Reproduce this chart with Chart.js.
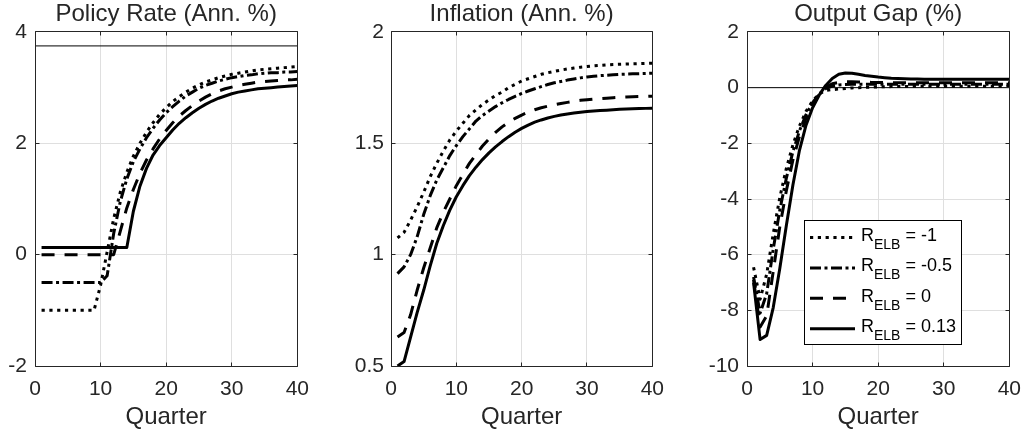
<!DOCTYPE html>
<html>
<head>
<meta charset="utf-8">
<script src="https://cdn.jsdelivr.net/npm/chart.js@4.4.1/dist/chart.umd.min.js"></script>
<style>
body { margin: 0; background: #fff; width: 1032px; height: 435px; position: relative; overflow: hidden; }
canvas { position: absolute; top: 0; }
</style>
</head>
<body>
<canvas id="rateChart" width="320" height="435" style="left:0px"></canvas>
<canvas id="inflChart" width="331" height="435" style="left:344px"></canvas>
<canvas id="gapChart" width="332" height="435" style="left:700px"></canvas>
<script>
// impulse responses under four effective lower bounds (R_ELB)
const quarters = [1,2,3,4,5,6,7,8,9,10,11,12,13,14,15,16,17,18,19,20,
                  21,22,23,24,25,26,27,28,29,30,31,32,33,34,35,36,37,38,39,40];
const elbLevels = [-1, -0.5, 0, 0.13];

// policy rate, annualised %
const rateElbM1 = [-1,-1,-1,-1,-1,-1,-1,-1,-1,-0.55, 0.05,0.65,1.12,1.48,1.77,2.0,2.2,2.37,2.52,2.64,
                   2.75,2.84,2.92,2.99,3.05,3.1,3.14,3.18,3.21,3.24, 3.26,3.28,3.3,3.32,3.33,3.34,3.35,3.36,3.37,3.38];
const rateElbM05 = [-0.5,-0.5,-0.5,-0.5,-0.5,-0.5,-0.5,-0.5,-0.5,-0.5, -0.38,0.38,0.95,1.36,1.67,1.9,2.1,2.27,2.42,2.55,
                    2.66,2.76,2.85,2.92,2.99,3.04,3.08,3.12,3.15,3.18, 3.2,3.22,3.23,3.25,3.26,3.27,3.27,3.28,3.28,3.29];
const rateElb0 = [0,0,0,0,0,0,0,0,0,0, 0,0,0.42,0.84,1.17,1.46,1.7,1.9,2.08,2.23,
                  2.37,2.49,2.59,2.68,2.76,2.83,2.89,2.94,2.98,3.01, 3.04,3.06,3.08,3.1,3.11,3.12,3.13,3.14,3.14,3.15];
const rateElb013 = [0.13,0.13,0.13,0.13,0.13,0.13,0.13,0.13,0.13,0.13, 0.13,0.13,0.13,0.13,0.78,1.23,1.55,1.79,1.96,2.1,
                    2.24,2.36,2.46,2.55,2.63,2.7,2.76,2.81,2.85,2.89, 2.92,2.94,2.96,2.98,2.99,3.0,3.01,3.02,3.03,3.04];
const rateSteadyState = 3.75;

// inflation, annualised %
const inflElbM1 = [1.075,1.1,1.155,1.215,1.28,1.35,1.41,1.465,1.515,1.555, 1.59,1.625,1.65,1.675,1.695,1.715,1.73,1.75,1.765,1.78,
                   1.79,1.8,1.81,1.817,1.823,1.829,1.834,1.838,1.842,1.845, 1.848,1.85,1.852,1.854,1.855,1.856,1.857,1.858,1.859,1.86];
const inflElbM05 = [0.915,0.945,1.0,1.08,1.18,1.265,1.335,1.39,1.445,1.49, 1.53,1.565,1.6,1.625,1.645,1.665,1.682,1.697,1.711,1.724,
                    1.735,1.745,1.755,1.764,1.772,1.778,1.784,1.789,1.794,1.798, 1.801,1.804,1.806,1.808,1.81,1.811,1.812,1.813,1.814,1.815];
const inflElb0 = [0.63,0.65,0.73,0.84,0.94,1.03,1.12,1.19,1.25,1.31, 1.36,1.41,1.45,1.488,1.52,1.549,1.574,1.595,1.612,1.627,
                  1.64,1.651,1.66,1.667,1.673,1.679,1.684,1.689,1.693,1.696, 1.699,1.701,1.703,1.705,1.707,1.708,1.709,1.71,1.711,1.712];
const inflElb013 = [0.5,0.52,0.63,0.74,0.84,0.95,1.05,1.13,1.2,1.26, 1.31,1.355,1.393,1.427,1.457,1.484,1.508,1.53,1.55,1.567,
                    1.582,1.595,1.605,1.614,1.621,1.627,1.632,1.636,1.64,1.643, 1.645,1.647,1.649,1.651,1.653,1.654,1.655,1.656,1.657,1.658];

// output gap, %
const gapElbM1 = [-6.45,-7.6,-6.7,-5.25,-3.95,-2.9,-2.05,-1.38,-0.85,-0.48, -0.22,-0.1,-0.07,-0.05,-0.03,-0.01,0,0.01,0.02,0.03,
                  0.03,0.04,0.04,0.04,0.05,0.05,0.05,0.05,0.05,0.05, 0.05,0.05,0.05,0.05,0.05,0.05,0.05,0.05,0.05,0.05];
const gapElbM05 = [-6.8,-8.1,-7.4,-5.8,-4.4,-3.25,-2.3,-1.55,-0.97,-0.54, -0.23,-0.03,0.06,0.1,0.11,0.12,0.12,0.12,0.12,0.12,
                   0.12,0.12,0.12,0.12,0.12,0.12,0.12,0.12,0.12,0.12, 0.12,0.12,0.12,0.12,0.12,0.12,0.12,0.12,0.12,0.12];
const gapElb0 = [-6.9,-8.6,-8.2,-6.6,-5.0,-3.7,-2.6,-1.75,-1.1,-0.6, -0.24,0.02,0.14,0.19,0.21,0.21,0.2,0.2,0.19,0.19,
                 0.18,0.18,0.18,0.18,0.18,0.18,0.18,0.18,0.18,0.18, 0.18,0.18,0.18,0.18,0.18,0.18,0.18,0.18,0.18,0.18];
const gapElb013 = [-7.0,-9.05,-8.9,-7.9,-6.5,-4.95,-3.5,-2.25,-1.35,-0.72, -0.27,0.08,0.33,0.48,0.53,0.52,0.48,0.44,0.41,0.38,
                   0.36,0.34,0.33,0.32,0.31,0.31,0.3,0.3,0.3,0.3, 0.3,0.3,0.3,0.3,0.3,0.3,0.3,0.3,0.3,0.3];
const gapZero = 0;

// axis ranges: [min, max, step]
const quarterAxis = [0, 40, 10];
const rateAxis = [-2, 4, 2];
const inflAxis = [0.5, 2, 0.5];
const gapAxis = [-10, 2, 2];

// dotted, dash-dot, dashed, solid
const dashes = [[3.2, 4.6], [11, 3.5, 3, 3.5], [13, 10], []];

const FONT = '"Liberation Sans", Arial, Helvetica, sans-serif';
const INK = '#262626';
Chart.defaults.font.family = FONT;
Chart.defaults.color = INK;

function alignPx(px){
    return Math.round(px - 0.5) + 0.5;
}

// box around the axes plus short inward tick marks
const framePlugin = {
    id: 'frame',
    afterDraw: function(chart){
        const a = chart.chartArea, ctx = chart.ctx;
        const xs = chart.scales.x, ys = chart.scales.y;
        const l = alignPx(a.left), r = alignPx(a.right), t = alignPx(a.top), b = alignPx(a.bottom);
        ctx.save();
        ctx.strokeStyle = INK;
        ctx.lineWidth = 1;
        ctx.beginPath();
        ctx.rect(l, t, r - l, b - t);
        xs.ticks.forEach(function(tk){
            const px = alignPx(xs.getPixelForValue(tk.value));
            ctx.moveTo(px, b); ctx.lineTo(px, b - 4);
            ctx.moveTo(px, t); ctx.lineTo(px, t + 4);
        });
        ys.ticks.forEach(function(tk){
            const py = alignPx(ys.getPixelForValue(tk.value));
            ctx.moveTo(l, py); ctx.lineTo(l + 4, py);
            ctx.moveTo(r, py); ctx.lineTo(r - 4, py);
        });
        ctx.stroke();
        ctx.restore();
    }
};

// legend with subscripted R_ELB labels
const elbLegend = {
    id: 'elbLegend',
    afterDraw: function(chart, args, opts){
        const a = chart.chartArea, ctx = chart.ctx;
        const x0 = a.left + opts.left, y0 = a.top + opts.top;
        ctx.save();
        ctx.fillStyle = '#fff';
        ctx.fillRect(x0, y0, opts.width, opts.height);
        ctx.strokeStyle = '#000';
        ctx.lineWidth = 1;
        ctx.strokeRect(Math.round(x0) + 0.5, Math.round(y0) + 0.5, opts.width, opts.height);
        elbLevels.forEach(function(lvl, i){
            const ly = y0 + 17.5 + i * 30.4;
            ctx.beginPath();
            ctx.setLineDash(dashes[i]);
            ctx.lineWidth = 3;
            ctx.lineCap = 'butt';
            ctx.strokeStyle = '#000';
            ctx.moveTo(x0 + 6, ly);
            ctx.lineTo(x0 + 51, ly);
            ctx.stroke();
            ctx.setLineDash([]);

            const base = y0 + 21 + i * 30.3;
            let tx = x0 + 57;
            ctx.fillStyle = '#000';
            ctx.textBaseline = 'alphabetic';
            ctx.textAlign = 'left';
            ctx.font = '18px ' + FONT;
            ctx.fillText('R', tx, base);
            tx += ctx.measureText('R').width;
            ctx.font = '14px ' + FONT;
            ctx.fillText('ELB', tx, base + 8);
            tx += ctx.measureText('ELB').width;
            ctx.font = '18px ' + FONT;
            ctx.fillText(' = ' + lvl, tx, base);
        });
        ctx.restore();
    }
};

function toPoints(values){
    return values.map(function(v, k){ return {x: quarters[k], y: v}; });
}

function makeSeries(seriesList){
    return seriesList.map(function(vals, i){
        return {
            label: 'R_ELB = ' + elbLevels[i],
            data: toPoints(vals),
            borderColor: '#000',
            borderWidth: 3,
            borderDash: dashes[i],
            borderCapStyle: 'butt',
            borderJoinStyle: 'round',
            pointRadius: 0,
            tension: 0,
            fill: false,
            order: 4 - i
        };
    });
}

function hLine(level){
    return {
        label: 'ref',
        data: [{x: quarterAxis[0], y: level}, {x: quarterAxis[1], y: level}],
        borderColor: '#000',
        borderWidth: 1,
        pointRadius: 0,
        fill: false,
        order: 10
    };
}

// plain tick text: 2, 1.5, 1, 0.5 rather than 2.0, 1.0
function plainTick(value){
    return String(Math.round(value * 100) / 100);
}

function drawPanel(id, title, seriesList, axis, extra, yWidth, yPad, plugins, pluginOpts){
    const datasets = makeSeries(seriesList);
    if (extra !== null) datasets.push(hLine(extra));
    const ctx = document.getElementById(id).getContext('2d');
    const pl = {
        legend: { display: false },
        tooltip: { enabled: false },
        title: {
            display: true,
            text: title,
            fullSize: false,
            color: INK,
            font: { size: 24, weight: 'normal' },
            padding: { top: 0, bottom: 3.2 }
        }
    };
    if (pluginOpts) pl.elbLegend = pluginOpts;
    return new Chart(ctx, {
        type: 'line',
        data: { datasets: datasets },
        options: {
            responsive: false,
            animation: false,
            events: [],
            layout: { padding: { left: 0, right: 14, top: 0, bottom: 0 } },
            plugins: pl,
            scales: {
                x: {
                    type: 'linear',
                    min: quarterAxis[0], max: quarterAxis[1],
                    ticks: { stepSize: quarterAxis[2], padding: 11, font: { size: 21 }, color: INK, callback: plainTick },
                    grid: { color: '#dfdfdf', drawTicks: false },
                    border: { display: false },
                    title: { display: true, text: 'Quarter', color: INK, font: { size: 24 }, padding: { top: 0, bottom: 3 } },
                    afterFit: function(s){ s.height = 69; }
                },
                y: {
                    min: axis[0], max: axis[1],
                    ticks: { stepSize: axis[2], padding: yPad, font: { size: 21 }, color: INK, callback: plainTick },
                    grid: { color: '#dfdfdf', drawTicks: false },
                    border: { display: false },
                    afterFit: function(s){ s.width = yWidth; }
                }
            }
        },
        plugins: plugins
    });
}

drawPanel('rateChart', 'Policy Rate (Ann. %)', [rateElbM1, rateElbM05, rateElb0, rateElb013],
          rateAxis, rateSteadyState, 35, 8, [framePlugin]);
drawPanel('inflChart', 'Inflation (Ann. %)', [inflElbM1, inflElbM05, inflElb0, inflElb013],
          inflAxis, null, 47, 7, [framePlugin]);
drawPanel('gapChart', 'Output Gap (%)', [gapElbM1, gapElbM05, gapElb0, gapElb013],
          gapAxis, gapZero, 47, 8, [framePlugin, elbLegend],
          { left: 57, top: 188, width: 157, height: 124 });
</script>
</body>
</html>
